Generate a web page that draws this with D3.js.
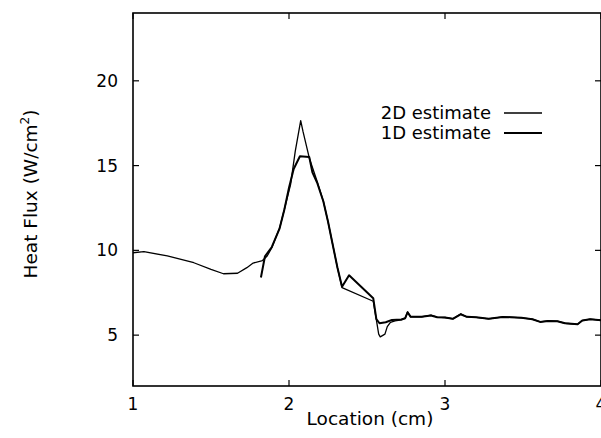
<!DOCTYPE html>
<html>
<head>
<meta charset="utf-8">
<script src="https://cdn.jsdelivr.net/npm/d3@7"></script>
<style>
    body { margin: 0; background: #fff; }
    svg { display: block; }
    .tick-label, .axis-title, .legend-label {
        font-family: 'DejaVu Sans', sans-serif;
        fill: #000;
    }
</style>
</head>
<body>
<div id="vis"></div>
<script>
// 2D estimate (thin line)
const x2d = [1.00, 1.07, 1.22, 1.39, 1.50, 1.58, 1.67, 1.73, 1.77, 1.83, 1.86, 1.89, 1.94, 1.97, 2.01, 2.04, 2.075, 2.09, 2.13, 2.18, 2.22, 2.25, 2.28, 2.31, 2.34, 2.54, 2.56, 2.575, 2.585, 2.615, 2.63, 2.65, 2.68, 2.72, 2.745, 2.76, 2.78, 2.85, 2.91, 2.95, 3.00, 3.05, 3.10, 3.14, 3.20, 3.28, 3.37, 3.42, 3.49, 3.56, 3.61, 3.66, 3.72, 3.77, 3.85, 3.88, 3.93, 4.00];
const y2d = [9.86, 9.92, 9.67, 9.27, 8.88, 8.62, 8.65, 8.98, 9.25, 9.40, 9.67, 10.16, 11.33, 12.41, 13.88, 15.84, 17.65, 17.0, 15.45, 14.08, 12.9, 11.7, 10.35, 9.0, 7.8, 7.0, 5.9, 5.06, 4.9, 5.06, 5.5, 5.76, 5.84, 5.9, 6.0, 6.37, 6.08, 6.08, 6.18, 6.06, 6.04, 5.96, 6.25, 6.08, 6.05, 5.96, 6.08, 6.06, 6.02, 5.94, 5.78, 5.84, 5.82, 5.70, 5.64, 5.86, 5.94, 5.88];

// 1D estimate (thick line)
const x1d = [1.82, 1.846, 1.89, 1.94, 1.97, 2.00, 2.03, 2.07, 2.13, 2.15, 2.18, 2.22, 2.25, 2.28, 2.31, 2.34, 2.385, 2.54, 2.56, 2.58, 2.62, 2.66, 2.72, 2.745, 2.76, 2.78, 2.85, 2.91, 2.95, 3.00, 3.05, 3.10, 3.14, 3.20, 3.28, 3.37, 3.42, 3.49, 3.56, 3.61, 3.66, 3.72, 3.77, 3.85, 3.88, 3.93, 4.00];
const y1d = [8.4, 9.65, 10.2, 11.3, 12.4, 13.7, 14.8, 15.55, 15.5, 14.6, 14.0, 12.9, 11.7, 10.35, 9.0, 7.85, 8.53, 7.18, 5.95, 5.7, 5.76, 5.9, 5.92, 6.0, 6.35, 6.08, 6.08, 6.16, 6.06, 6.04, 5.96, 6.23, 6.08, 6.05, 5.96, 6.07, 6.06, 6.02, 5.94, 5.78, 5.84, 5.82, 5.70, 5.64, 5.86, 5.94, 5.88];

const xTicks = [1, 2, 3, 4];
const yTicks = [5, 10, 15, 20];
const legendLabels = ["2D estimate", "1D estimate"];

const width = 601, height = 438;
const margin = { top: 13, right: 0, bottom: 52, left: 133 };

const svg = d3.select("#vis").append("svg")
    .attr("width", width)
    .attr("height", height);

const x = d3.scaleLinear().domain([1, 4]).range([margin.left, 601]);
const y = d3.scaleLinear().domain([2, 24]).range([height - margin.bottom, margin.top]);

const x0 = x.range()[0], x1 = x.range()[1];
const yb = y.range()[0], yt = y.range()[1];

// inward ticks on all four sides
const tickLen = 6;
const ticks = svg.append("g").attr("stroke", "#000").attr("stroke-width", 1.2);
xTicks.forEach(t => {
    ticks.append("line").attr("x1", x(t)).attr("x2", x(t)).attr("y1", yb).attr("y2", yb - tickLen);
    ticks.append("line").attr("x1", x(t)).attr("x2", x(t)).attr("y1", yt).attr("y2", yt + tickLen);
});
yTicks.forEach(t => {
    ticks.append("line").attr("x1", x0).attr("x2", x0 + tickLen).attr("y1", y(t)).attr("y2", y(t));
    ticks.append("line").attr("x1", x1).attr("x2", x1 - tickLen).attr("y1", y(t)).attr("y2", y(t));
});

// frame
svg.append("rect")
    .attr("x", x0).attr("y", yt)
    .attr("width", x1 - x0).attr("height", yb - yt)
    .attr("fill", "none").attr("stroke", "#000").attr("stroke-width", 1.6);

// tick labels
svg.selectAll(".xl").data(xTicks).join("text")
    .attr("class", "tick-label")
    .attr("x", d => x(d)).attr("y", 410)
    .attr("text-anchor", "middle")
    .attr("font-size", 17)
    .text(d => d);

svg.selectAll(".yl").data(yTicks).join("text")
    .attr("class", "tick-label")
    .attr("x", 118).attr("y", d => y(d) + 6)
    .attr("text-anchor", "end")
    .attr("font-size", 17)
    .text(d => d);

// axis titles
svg.append("text")
    .attr("class", "axis-title")
    .attr("x", 370).attr("y", 425)
    .attr("text-anchor", "middle")
    .attr("font-size", 18.5)
    .text("Location (cm)");

const yTitle = svg.append("text")
    .attr("class", "axis-title")
    .attr("text-anchor", "middle")
    .attr("font-size", 18.5)
    .attr("transform", "translate(37,194) rotate(-90)");
yTitle.append("tspan").text("Heat Flux (W/cm");
yTitle.append("tspan").attr("font-size", 12).attr("dy", -8).text("2");
yTitle.append("tspan").attr("dy", 8).text(")");

// curves
const line = d3.line()
    .x(d => x(d[0]))
    .y(d => y(d[1]))
    .curve(d3.curveLinear);

svg.append("path")
    .attr("d", line(d3.zip(x1d, y1d)))
    .attr("fill", "none")
    .attr("stroke", "#000")
    .attr("stroke-width", 2)
    .attr("stroke-linejoin", "round");

svg.append("path")
    .attr("d", line(d3.zip(x2d, y2d)))
    .attr("fill", "none")
    .attr("stroke", "#000")
    .attr("stroke-width", 1.3)
    .attr("stroke-linejoin", "round");

// legend
const legend = svg.append("g");
legendLabels.forEach((lab, i) => {
    const ly = 113 + i * 20;
    legend.append("text")
        .attr("class", "legend-label")
        .attr("x", 491).attr("y", ly + 6)
        .attr("text-anchor", "end")
        .attr("font-size", 18)
        .text(lab);
    legend.append("line")
        .attr("x1", 504).attr("x2", 542)
        .attr("y1", ly).attr("y2", ly)
        .attr("stroke", "#000")
        .attr("stroke-width", i === 0 ? 1.3 : 2.2);
});
</script>
</body>
</html>
